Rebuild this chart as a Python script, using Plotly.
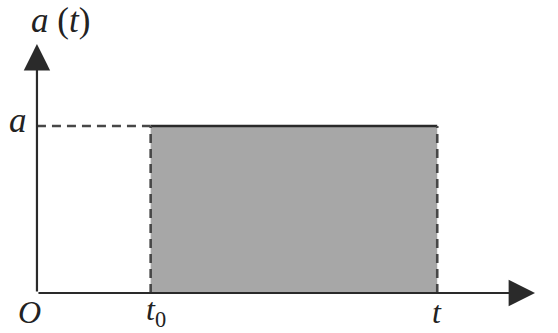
import plotly.graph_objects as go

# Quantities shown on the diagram (arbitrary units)
t_start = 1.0      # t0
t_end = 3.52       # t
accel = 1.0        # constant value a
x_axis_end = 4.38
y_axis_end = 1.49

ink = "#2a2a2a"
dash_ink = "#474747"
shade = "#a7a7a7"
serif = "Liberation Serif"

fig = go.Figure()

# Shaded area under a(t) between t0 and t
fig.add_trace(go.Scatter(
    x=[t_start, t_end, t_end, t_start, t_start],
    y=[0, 0, accel, accel, 0],
    mode="none", fill="toself", fillcolor=shade,
    hoverinfo="skip", showlegend=False,
))
# Top edge of the constant acceleration
fig.add_trace(go.Scatter(
    x=[t_start, t_end], y=[accel, accel], mode="lines",
    line=dict(color=ink, width=2.6), showlegend=False, hoverinfo="skip",
))
# Dashed guide from the a-axis to t0
fig.add_trace(go.Scatter(
    x=[0, t_start], y=[accel, accel], mode="lines",
    line=dict(color=dash_ink, width=2.4, dash="9px,6px"), showlegend=False, hoverinfo="skip",
))
# Dashed verticals at t0 and t
for xv in (t_start, t_end):
    fig.add_trace(go.Scatter(
        x=[xv, xv], y=[0, accel], mode="lines",
        line=dict(color=dash_ink, width=2.6, dash="9px,6px"), showlegend=False, hoverinfo="skip",
    ))

# Coordinate axes drawn as arrows from the origin
for (x0, y0, x1, y1) in [(0, 0, x_axis_end, 0), (0, 0, 0, y_axis_end)]:
    fig.add_annotation(
        x=x1, y=y1, ax=x0, ay=y0, xref="x", yref="y", axref="x", ayref="y",
        showarrow=True, arrowhead=2, arrowsize=2.4, arrowwidth=2.2,
        arrowcolor=ink, text="",
    )

big = dict(family=serif, size=35, color="#222222")
low = dict(family=serif, size=32, color="#222222")
labels = [
    (0.21, 1.63, "<i>a</i>&nbsp;(<i>t</i>)", big),
    (-0.17, accel + 0.03, "<i>a</i>", big),
    (-0.065, -0.115, "<i>O</i>", low),
    (t_start + 0.05, -0.11, "<i>t</i><sub>0</sub>", low),
    (t_end, -0.115, "<i>t</i>", low),
    (4.60, 0.0, "<i>t</i>", big),
]
for x, y, txt, f in labels:
    fig.add_annotation(x=x, y=y, xref="x", yref="y", text=txt,
                       showarrow=False, font=f)

fig.update_xaxes(range=[-0.325, 4.582], visible=False, fixedrange=True)
fig.update_yaxes(range=[-0.2395, 1.754], visible=False, fixedrange=True)
fig.update_layout(
    width=558, height=333, margin=dict(l=0, r=0, t=0, b=0),
    paper_bgcolor="white", plot_bgcolor="white", showlegend=False,
)

fig.write_html("out.html")
